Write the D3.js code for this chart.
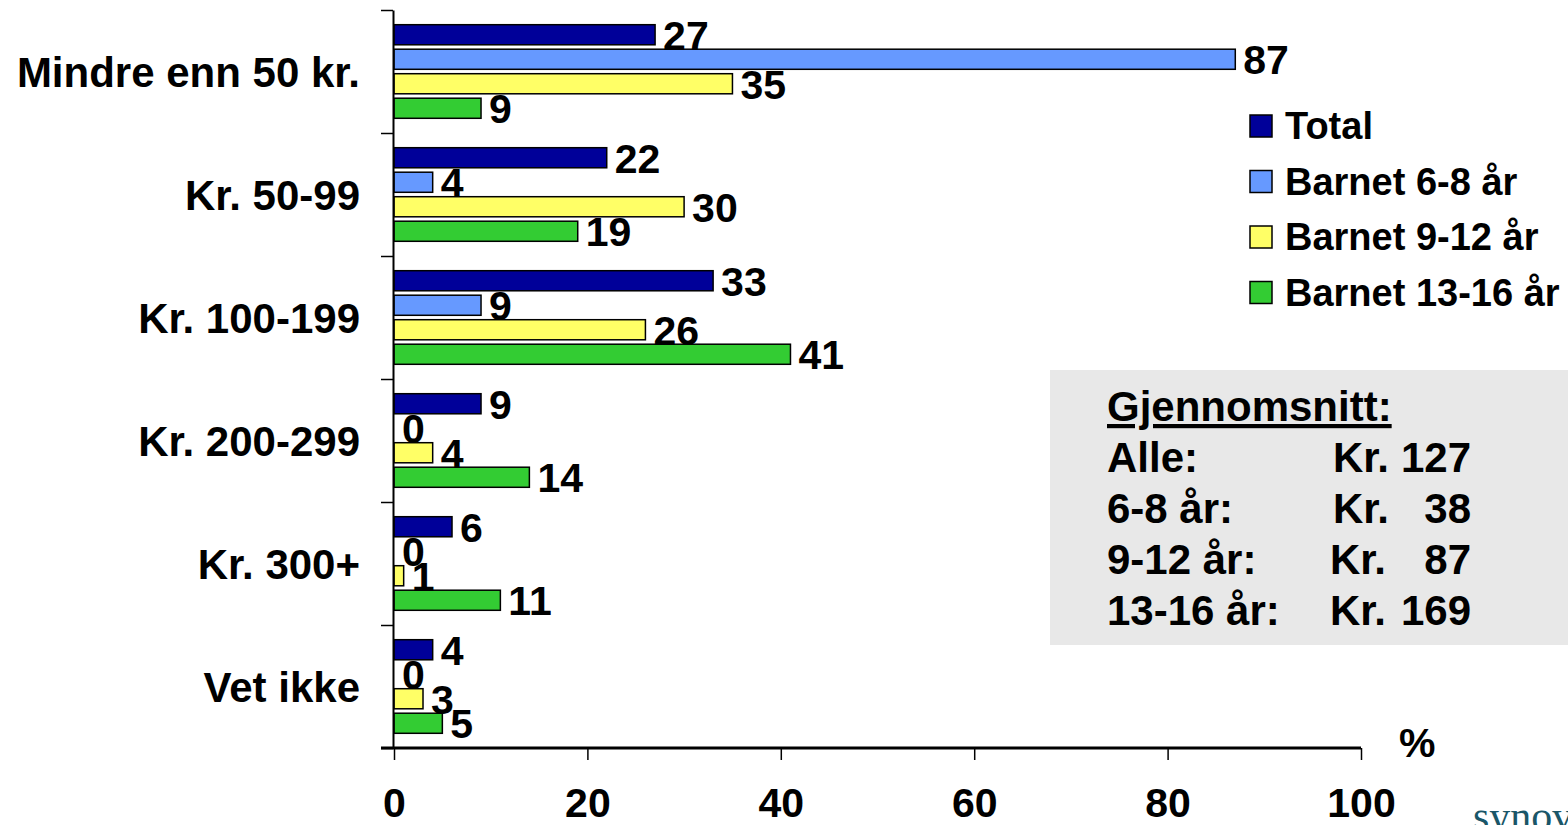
<!DOCTYPE html>
<html>
<head>
<meta charset="utf-8">
<script src="https://cdn.jsdelivr.net/npm/d3@7"></script>
<style>
    body { margin: 0; background: #fff; }
    text { font-family: "Liberation Sans", Arial, sans-serif; font-weight: bold; fill: #000; }
</style>
</head>
<body>
<svg id="drawing_region"></svg>
<script>
const categories = ["Mindre enn 50 kr.", "Kr. 50-99", "Kr. 100-199", "Kr. 200-299", "Kr. 300+", "Vet ikke"];
const seriesNames = ["Total", "Barnet 6-8 år", "Barnet 9-12 år", "Barnet 13-16 år"];
const seriesColors = ["#000099", "#6699ff", "#ffff66", "#33cc33"];
const total = [27, 22, 33, 9, 6, 4];
const barnet68 = [87, 4, 9, 0, 0, 0];
const barnet912 = [35, 30, 26, 4, 1, 3];
const barnet1316 = [9, 19, 41, 14, 11, 5];
const xTicks = [0, 20, 40, 60, 80, 100];
const avgLabels = ["Alle:", "6-8 år:", "9-12 år:", "13-16 år:"];
const avgValues = [127, 38, 87, 169];

const seriesValues = [total, barnet68, barnet912, barnet1316];
const data = [];
categories.forEach((c, i) => {
    seriesNames.forEach((s, j) => {
        data.push({ cat: c, series: s, value: seriesValues[j][i], color: seriesColors[j] });
    });
});

const width = 1568, height = 825;
const plot = { left: 394, right: 1361, top: 10, bottom: 748 };

const svg = d3.select("#drawing_region")
    .attr("width", width)
    .attr("height", height);

const xscale = d3.scaleLinear().domain([0, 100]).range([plot.left, plot.right]);
const yscale = d3.scaleBand().domain(categories).range([plot.top, plot.bottom]);
const subscale = d3.scaleBand().domain(seriesNames)
    .range([0, yscale.bandwidth()])
    .paddingInner(0.18)
    .paddingOuter(0.6);

// bars
svg.selectAll("rect.bar").data(data).enter()
    .append("rect")
    .attr("class", "bar")
    .attr("x", xscale(0))
    .attr("y", d => yscale(d.cat) + subscale(d.series))
    .attr("width", d => xscale(d.value) - xscale(0))
    .attr("height", subscale.bandwidth())
    .style("fill", d => d.color)
    .style("stroke", "#000")
    .style("stroke-width", 1.5);

// value labels
svg.selectAll("text.val").data(data).enter()
    .append("text")
    .attr("class", "val")
    .attr("x", d => xscale(d.value) + 8)
    .attr("y", d => yscale(d.cat) + subscale(d.series) + subscale.bandwidth() / 2 + 15)
    .style("font-size", "41px")
    .text(d => d.value);

// y axis (ticks at band edges)
const yedge = d3.scaleLinear().domain([0, categories.length]).range([plot.top, plot.bottom]);
const yaxis = d3.axisLeft(yedge).ticks(categories.length).tickFormat("").tickSize(12).tickSizeOuter(0);
svg.append("g")
    .attr("transform", `translate(${plot.left - 1}, 0)`)
    .call(yaxis)
    .call(g => g.select(".domain").style("stroke", "#000").style("stroke-width", 2))
    .call(g => g.selectAll(".tick line").style("stroke", "#000").style("stroke-width", 1.5));

// category labels
svg.selectAll("text.cat").data(categories).enter()
    .append("text")
    .attr("class", "cat")
    .attr("x", 360)
    .attr("y", d => yscale(d) + yscale.bandwidth() / 2 + 15)
    .attr("text-anchor", "end")
    .style("font-size", "42px")
    .text(d => d);

// x axis
const xaxis = d3.axisBottom(xscale).tickValues(xTicks).tickSize(12).tickSizeOuter(0).tickPadding(28);
const xg = svg.append("g")
    .attr("transform", `translate(0, ${plot.bottom})`)
    .call(xaxis);
xg.select(".domain").remove();
xg.selectAll(".tick line").style("stroke", "#000").style("stroke-width", 1.5);
xg.selectAll(".tick text")
    .style("font-family", '"Liberation Sans", Arial, sans-serif')
    .style("font-weight", "bold")
    .style("font-size", "41px")
    .style("fill", "#000");
svg.append("line")
    .attr("x1", plot.left - 13).attr("x2", plot.right)
    .attr("y1", plot.bottom).attr("y2", plot.bottom)
    .style("stroke", "#000")
    .style("stroke-width", 3);

svg.append("text")
    .attr("x", 1399)
    .attr("y", 757)
    .style("font-size", "41px")
    .text("%");

// legend
const legend = svg.selectAll("g.legend").data(seriesNames).enter()
    .append("g")
    .attr("class", "legend")
    .attr("transform", (d, i) => `translate(1250, ${115 + i * 55.5})`);
legend.append("rect")
    .attr("width", 22).attr("height", 22)
    .style("fill", (d, i) => seriesColors[i])
    .style("stroke", "#000")
    .style("stroke-width", 1.5);
legend.append("text")
    .attr("x", 35)
    .attr("y", 24)
    .style("font-size", "38px")
    .text(d => d);

// average box
svg.append("rect")
    .attr("x", 1050).attr("y", 370)
    .attr("width", width - 1050).attr("height", 275)
    .style("fill", "#e8e8e8");
svg.append("text")
    .attr("x", 1107).attr("y", 421)
    .style("font-size", "42px")
    .style("text-decoration", "underline")
    .text("Gjennomsnitt:");
avgLabels.forEach((lab, i) => {
    const y = 472 + i * 51;
    svg.append("text").attr("x", 1107).attr("y", y).style("font-size", "42px").text(lab);
    svg.append("text").attr("x", i < 2 ? 1333 : 1330).attr("y", y).style("font-size", "42px").text("Kr.");
    svg.append("text").attr("x", 1471).attr("y", y).attr("text-anchor", "end").style("font-size", "42px").text(avgValues[i]);
});

// logo, cut by the edge
svg.append("text")
    .attr("x", 1473).attr("y", 830)
    .style("font-family", '"Liberation Serif", "DejaVu Serif", serif')
    .style("font-weight", "normal")
    .style("font-size", "42px")
    .style("fill", "#1a5668")
    .text("synovate");
</script>
</body>
</html>
